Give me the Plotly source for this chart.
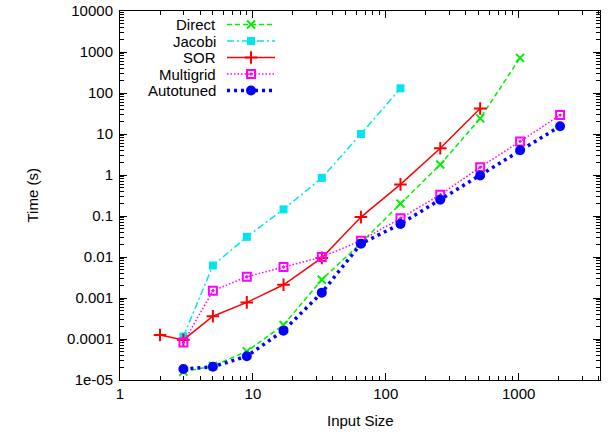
import plotly.graph_objects as go

# ---- data ----
direct_x = [3, 5, 9, 17, 33, 65, 129, 257, 513, 1025]
direct_y = [1.6e-5, 2.2e-5, 5.0e-5, 2.2e-4, 2.8e-3, 0.022, 0.20, 1.8, 24, 720]

jacobi_x = [3, 5, 9, 17, 33, 65, 129]
jacobi_y = [1.15e-4, 0.0062, 0.031, 0.145, 0.85, 10, 130]

sor_x = [2, 3, 5, 9, 17, 33, 65, 129, 257, 513]
sor_y = [1.25e-4, 9.5e-5, 3.6e-4, 7.8e-4, 2.1e-3, 0.0095, 0.094, 0.59, 4.5, 42]

multigrid_x = [3, 5, 9, 17, 33, 65, 129, 257, 513, 1025, 2049]
multigrid_y = [8.2e-5, 0.0015, 0.0033, 0.0057, 0.010, 0.025, 0.088, 0.33, 1.55, 6.6, 29]

autotuned_x = [3, 5, 9, 17, 33, 65, 129, 257, 513, 1025, 2049]
autotuned_y = [1.85e-5, 2.1e-5, 3.8e-5, 1.6e-4, 1.35e-3, 0.021, 0.064, 0.25, 0.97, 4.0, 15.5]

series_names = ["Direct", "Jacobi", "SOR", "Multigrid", "Autotuned"]

x_tick_vals = [1, 10, 100, 1000]
x_tick_text = ["1", "10", "100", "1000"]
y_tick_vals = [1e-5, 1e-4, 1e-3, 1e-2, 1e-1, 1, 10, 100, 1000, 10000]
y_tick_text = ["1e-05", "0.0001", "0.001", "0.01", "0.1", "1", "10", "100", "1000", "10000"]

# ---- styles ----
styles = [
    dict(color="#00ee00", dash="5px,3px", width=1.5, symbol="x-thin", size=8, mlw=2),
    dict(color="#00e5ee", dash="7px,3px,2px,3px", width=1.5, symbol="square", size=8, mlw=0),
    dict(color="#ff0000", dash="solid", width=1.5, symbol="cross-thin", size=9, mlw=2),
    dict(color="#ff00ff", dash="1.5px,2px", width=1.5, symbol="square-open-dot", size=8, mlw=2),
    dict(color="#0000ff", dash="3px,4px", width=3.5, symbol="circle", size=8, mlw=2),
]
data = [(direct_x, direct_y), (jacobi_x, jacobi_y), (sor_x, sor_y),
        (multigrid_x, multigrid_y), (autotuned_x, autotuned_y)]

FONT = "Liberation Sans, Arial, Helvetica, sans-serif"
FS = 15
W, H = 608, 434
PL, PR, PT, PB = 120, 600, 11, 380           # plot box in window pixels
L, R, T, B = PL, W - PR, PT, H - PB

fig = go.Figure()
for name, (xs, ys), st in zip(series_names, data, styles):
    fig.add_trace(go.Scatter(
        x=xs, y=ys, mode="lines+markers", name=name, showlegend=False,
        line=dict(color=st["color"], dash=st["dash"], width=st["width"]),
        marker=dict(symbol=st["symbol"], size=st["size"], color=st["color"],
                    line=dict(color=st["color"], width=st["mlw"])),
        xaxis="x", yaxis="y"))

# ---- custom legend (text left of sample, as in gnuplot) ----
leg_rows = [24.5, 41, 57.5, 74, 90.5]   # window-pixel rows
leg_x0, leg_x1, leg_text_x = 227, 275, 218
for name, st, ry in zip(series_names, styles, leg_rows):
    fig.add_trace(go.Scatter(
        x=[leg_x0, leg_x1], y=[ry, ry], mode="lines", showlegend=False, hoverinfo="skip",
        line=dict(color=st["color"], dash=st["dash"], width=st["width"]),
        xaxis="x2", yaxis="y2"))
    fig.add_trace(go.Scatter(
        x=[(leg_x0 + leg_x1) / 2], y=[ry], mode="markers", showlegend=False, hoverinfo="skip",
        marker=dict(symbol=st["symbol"], size=st["size"], color=st["color"],
                    line=dict(color=st["color"], width=st["mlw"])),
        xaxis="x2", yaxis="y2"))
    fig.add_annotation(x=leg_text_x, y=ry, xref="x2", yref="y2", text=name,
                       showarrow=False, xanchor="right", yanchor="middle",
                       font=dict(family=FONT, size=FS, color="black"))

# axis titles
fig.add_annotation(x=0.5, y=0, xref="paper", yref="paper", text="Input Size",
                   showarrow=False, xanchor="center", yanchor="middle", yshift=-(420 - PB),
                   font=dict(family=FONT, size=FS, color="black"))
fig.add_annotation(x=0, y=0.5, xref="paper", yref="paper", text="Time (s)", textangle=-90,
                   showarrow=False, xanchor="center", yanchor="middle", xshift=-(PL - 32),
                   font=dict(family=FONT, size=FS, color="black"))

axis_common = dict(
    type="log", showline=True, linecolor="black", linewidth=1, mirror="allticks",
    ticks="inside", ticklen=7, tickcolor="black", tickwidth=1, showgrid=False,
    zeroline=False, automargin=False, tickfont=dict(family=FONT, size=FS, color="black"),
    minor=dict(ticks="inside", ticklen=4, tickcolor="black", tickwidth=1,
               dtick="D1", showgrid=False),
)

fig.update_layout(
    width=W, height=H,
    margin=dict(l=L, r=R, t=T, b=B),
    paper_bgcolor="white", plot_bgcolor="white",
    font=dict(family=FONT, size=FS, color="black"),
    xaxis=dict(axis_common, range=[0, 3.612], tickvals=x_tick_vals, ticktext=x_tick_text),
    yaxis=dict(axis_common, range=[-5, 4], tickvals=y_tick_vals, ticktext=y_tick_text,
               ticklabelstandoff=3),
    xaxis2=dict(overlaying="x", range=[PL, PR], visible=False, domain=[0, 1], anchor="y2"),
    yaxis2=dict(overlaying="y", range=[PB, PT], visible=False, domain=[0, 1], anchor="x2"),
)

fig.write_html(
    "out.html",
    config={"displayModeBar": False},
    post_script="document.body.style.margin='0px';document.body.style.overflow='hidden';",
)
